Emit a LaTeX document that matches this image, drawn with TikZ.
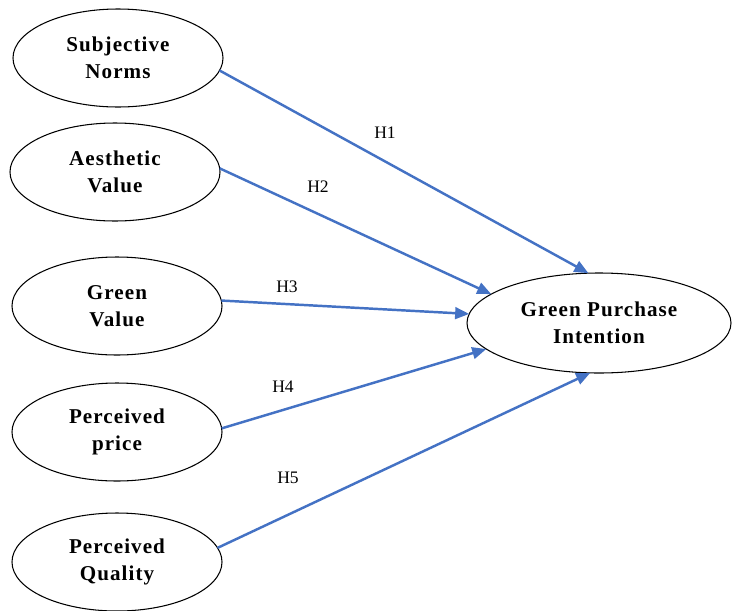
\documentclass[tikz,border=0pt]{standalone}
\usepackage{fontspec}
\setmainfont{Liberation Serif}
\newfontfamily\spacedfont[LetterSpace=5]{Liberation Serif}
\usetikzlibrary{shapes.geometric, arrows.meta}
\definecolor{myblue}{HTML}{4472C4}
\tikzset{
  construct/.style={ellipse, draw=black, line width=0.9pt, inner sep=0pt, outer sep=0pt,
    minimum width=6.3cm, minimum height=2.94cm, align=center,
    font=\spacedfont\fontsize{18}{23}\selectfont\bfseries},
  hyp/.style={draw=myblue, line width=2.1pt, -{Triangle[length=12pt,width=10pt]}},
  hlabel/.style={font=\fontsize{15}{17}\selectfont, inner sep=0pt}
}
\begin{document}
\begin{tikzpicture}[x=0.03cm, y=-0.03cm]
				\useasboundingbox (0,0) rectangle (732,610);
				% constructs
				\node[construct] (sn) at (118,58) {Subjective\\Norms};
				\node[construct] (av) at (115,172) {Aesthetic\\Value};
				\node[construct] (gv) at (117,306) {Green\\Value};
				\node[construct] (pp) at (117,432) {Perceived\\price};
				\node[construct] (pq) at (117,562) {Perceived\\Quality};
				\node[construct, minimum width=7.92cm, minimum height=3cm] (gpi) at (599,323) {Green Purchase\\Intention};
				% hypotheses
				\draw[hyp] (sn.-7) -- (gpi.102);
				\draw[hyp] (av.2) -- (gpi.165);
				\draw[hyp] (gv.3) -- (gpi.176);
				\draw[hyp] (pp.2) -- (gpi.193);
				\draw[hyp] (pq.8) -- (gpi.260);
				\node[hlabel] (h1) at (385,133) {H1};
				\node[hlabel] (h2) at (318,187) {H2};
				\node[hlabel] (h3) at (287,287) {H3};
				\node[hlabel] (h4) at (283,387) {H4};
				\node[hlabel] (h5) at (288,478) {H5};
			\end{tikzpicture}
\end{document}
